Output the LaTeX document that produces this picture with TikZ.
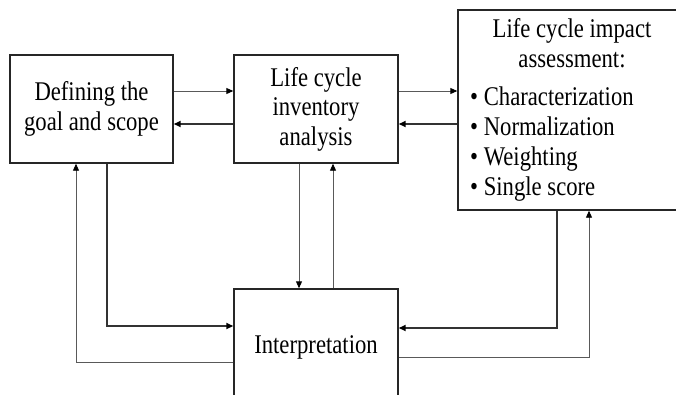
\documentclass[tikz,border=0pt]{standalone}
\usepackage{fontspec}
\setmainfont{Liberation Serif}[FakeStretch=0.84]
\usetikzlibrary{arrows.meta,positioning}

\tikzset{
    stage/.style={draw=black!85, line width=1.4pt, inner sep=0pt, align=center,
        font=\fontsize{27}{29.5}\selectfont},
    label text/.style={inner sep=0pt, font=\fontsize{27}{30}\selectfont},
    flow/.style={line width=0.9pt, draw=black!65, -{Triangle[length=7pt,width=6pt,color=black]}},
    backflow/.style={line width=1.8pt, draw=black!80, -{Triangle[length=7pt,width=6pt,color=black]}}
}

\begin{document}
\begin{tikzpicture}[x=1pt, y=-1pt]
            \useasboundingbox (0,0) rectangle (676,394);
            \clip (0,0) rectangle (676,394);

            \node[stage, minimum width=163pt, minimum height=108pt] (goal) at (91.5,109) {Defining the\\goal and scope};
            \node[stage, minimum width=164pt, minimum height=108pt] (inventory) at (316,109) {Life cycle\\inventory\\analysis};
            \node[stage, minimum width=228pt, minimum height=200pt] (impact) at (572,110) {};
            \node[stage, minimum width=164pt, minimum height=116pt] (interp) at (316,347) {Interpretation};

            \node[label text, align=center, anchor=north] (impacttitle) at (572,18) {Life cycle impact\\assessment:};
            \node[label text, align=left, anchor=north west] (impactsteps) at (470,87) {\textbullet\ Characterization\\\textbullet\ Normalization\\\textbullet\ Weighting\\\textbullet\ Single score};

            \draw[flow] ([yshift=18pt]goal.east) -- ([yshift=18pt]goal.east -| inventory.west);
            \draw[backflow] ([yshift=-15pt]goal.east -| inventory.west) -- ([yshift=-15pt]goal.east);

            \draw[flow] ([yshift=18pt]inventory.east) -- ([yshift=18pt]inventory.east -| impact.west);
            \draw[backflow] ([yshift=-15pt]inventory.east -| impact.west) -- ([yshift=-15pt]inventory.east);

            \draw[flow] ([xshift=-17pt]inventory.south) -- ([xshift=-17pt]inventory.south |- interp.north);
            \draw[flow] ([xshift=17pt]inventory.south |- interp.north) -- ([xshift=17pt]inventory.south);

            \draw[backflow] ([xshift=15.5pt]goal.south) |- ([yshift=21pt]interp.west);
            \draw[flow] ([yshift=-15pt]interp.west) -| ([xshift=-15.5pt]goal.south);

            \draw[backflow] ([xshift=-15pt]impact.south) |- ([yshift=19pt]interp.east);
            \draw[flow] ([yshift=-10pt]interp.east) -| ([xshift=17pt]impact.south);
        \end{tikzpicture}
\end{document}
